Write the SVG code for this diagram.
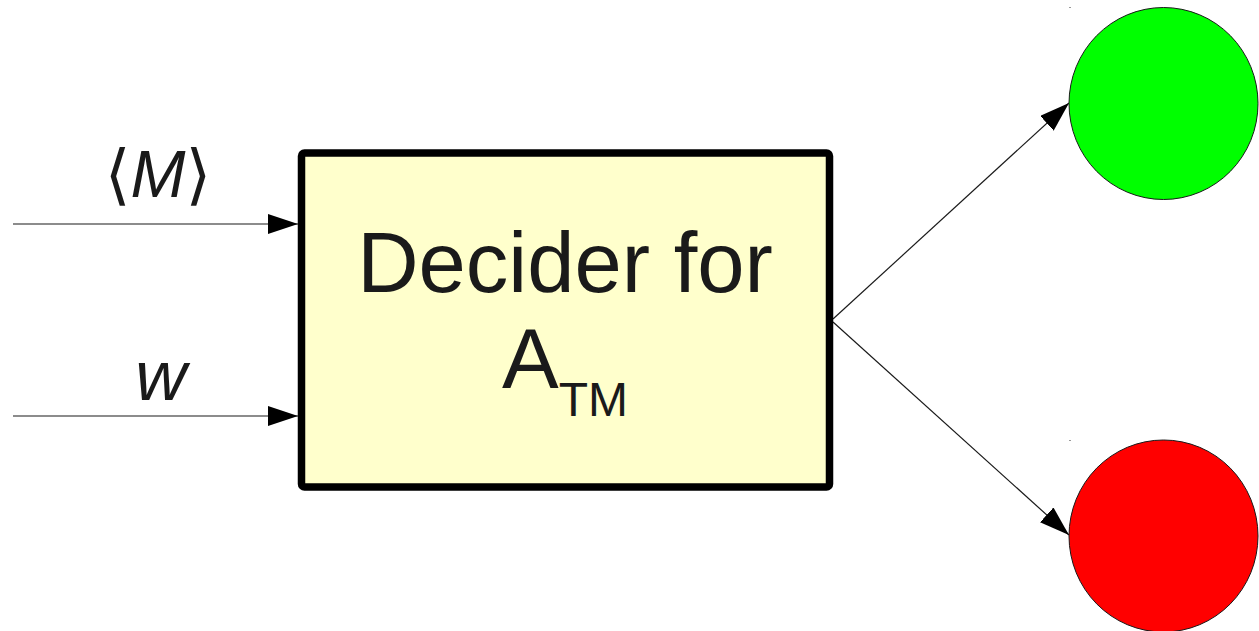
<svg xmlns="http://www.w3.org/2000/svg" width="1259" height="631" viewBox="0 0 1259 631">
  <style>
    .lbl { font-family: "Liberation Sans", "DejaVu Sans", Arial, sans-serif; fill: #1a1a1a; }
    .edge { stroke: #1a1a1a; stroke-width: 1.2; fill: none; }
    .it { font-style: italic; }
  </style>
  <defs>
    <marker id="arrow" viewBox="0 0 30 20" refX="30" refY="10" markerWidth="30" markerHeight="20" markerUnits="userSpaceOnUse" orient="auto">
      <path d="M0,0 L30,10 L0,20 Z" fill="#000"/>
    </marker>
  </defs>
  <rect width="1259" height="631" fill="#fff"/>

  <!-- connectors -->
  <g id="connectors">
    <line class="edge" x1="13" y1="224" x2="298" y2="224" marker-end="url(#arrow)"/>
    <line class="edge" x1="13" y1="416" x2="298" y2="416" marker-end="url(#arrow)"/>
    <line class="edge" x1="833" y1="319" x2="1069" y2="103" marker-end="url(#arrow)"/>
    <line class="edge" x1="833" y1="322" x2="1069" y2="535" marker-end="url(#arrow)"/>
  </g>

  <!-- input labels -->
  <g id="label-M">
    <text class="lbl" x="158" y="197" font-size="66" text-anchor="middle">⟨<tspan class="it">M</tspan>⟩</text>
  </g>
  <g id="label-w">
    <text class="lbl it" x="161" y="400" font-size="71" text-anchor="middle">w</text>
  </g>

  <!-- decider box -->
  <g id="decider">
    <rect x="301.5" y="153" width="528" height="334" rx="3" fill="#ffffcc" stroke="#000" stroke-width="7.5"/>
    <text class="lbl" x="565" y="292" font-size="85" text-anchor="middle">Decider for</text>
    <text class="lbl" x="565" y="388" font-size="85" text-anchor="middle">A<tspan font-size="48" dy="28">TM</tspan></text>
  </g>

  <!-- outcomes -->
  <g id="accept">
    <ellipse cx="1163.5" cy="103.5" rx="94.5" ry="96" fill="#00ff00" stroke="#1a1a1a" stroke-width="1"/>
    <rect x="1069" y="7" width="2" height="1" fill="#999"/>
  </g>
  <g id="reject">
    <ellipse cx="1163.5" cy="536" rx="94.5" ry="96" fill="#ff0000" stroke="#1a1a1a" stroke-width="1"/>
    <rect x="1069" y="440" width="2" height="1" fill="#999"/>
  </g>
</svg>
